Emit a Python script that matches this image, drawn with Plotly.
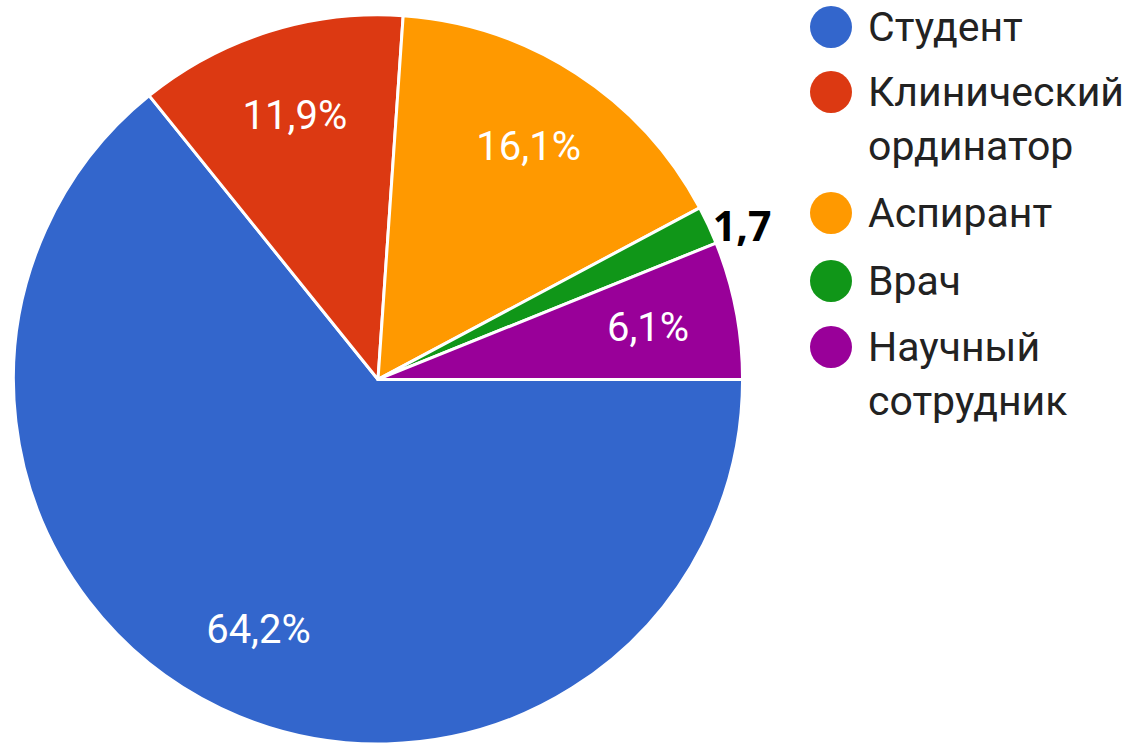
import plotly.graph_objects as go

categories = ["Студент", "Клинический ординатор", "Аспирант", "Врач", "Научный сотрудник"]
values = [64.2, 11.9, 16.1, 1.7, 6.1]
slice_labels = ["64,2%", "11,9%", "16,1%", "<b>1,7</b>", "6,1%"]
legend_lines = [["Студент"], ["Клинический", "ординатор"], ["Аспирант"], ["Врач"], ["Научный", "сотрудник"]]
colors = ["#3366CC", "#DC3912", "#FF9900", "#109618", "#990099"]

W, H = 1134, 744
CLEAR = "rgba(0,0,0,0)"
main_domain = dict(x=[13 / W, 743 / W], y=[0, 0.98])
small_domain = dict(x=[50.6 / W, 705.4 / W], y=[37.2 / H, 692.0 / H])
outer_label_domain = dict(x=[24 / W, 732 / W], y=[10.6 / H, 718.6 / H])

common = dict(
    labels=categories, values=values, text=slice_labels, textinfo="text",
    sort=False, direction="clockwise", rotation=90,
    showlegend=False, insidetextorientation="horizontal",
)
inside_font = dict(family="Roboto", size=40, color="white")
outside_font = dict(family="Open Sans", size=41, color="black")

fig = go.Figure()
# coloured slices
fig.add_trace(go.Pie(
    **common, domain=main_domain,
    marker=dict(colors=colors, line=dict(color="white", width=3)),
    textposition="none",
    hoverinfo="label+percent",
))
# transparent ring overlay that positions the large-slice labels further out
fig.add_trace(go.Pie(
    **common, domain=main_domain, hole=0.52,
    marker=dict(colors=[CLEAR] * len(values), line=dict(width=0)),
    textposition=["inside", "inside", "inside", "none", "none"],
    insidetextfont=inside_font,
    hoverinfo="skip",
))
# transparent smaller overlay that positions the narrow-slice label
fig.add_trace(go.Pie(
    **common, domain=small_domain,
    marker=dict(colors=[CLEAR] * len(values), line=dict(width=0)),
    textposition=["none", "none", "none", "none", "inside"],
    insidetextfont=inside_font,
    hoverinfo="skip",
))
# transparent overlay carrying the outside label of the tiny slice
fig.add_trace(go.Pie(
    **common, domain=outer_label_domain,
    marker=dict(colors=[CLEAR] * len(values), line=dict(width=0)),
    textposition=["none", "none", "none", "outside", "none"],
    outsidetextfont=outside_font,
    hoverinfo="skip",
))

shapes = []
annotations = []
circle_y = [27, 92, 213, 281, 347]
line_gap = 54
for i, lines in enumerate(legend_lines):
    cy = circle_y[i]
    shapes.append(dict(
        type="circle", xref="paper", yref="paper",
        xsizemode="pixel", ysizemode="pixel",
        xanchor=831 / W, yanchor=1 - cy / H,
        x0=-21, x1=21, y0=-21, y1=21,
        fillcolor=colors[i], line=dict(width=0),
    ))
    for j, t in enumerate(lines):
        ty = cy + j * line_gap
        annotations.append(dict(
            x=866 / W, y=1 - ty / H, xref="paper", yref="paper",
            xanchor="left", yanchor="middle", showarrow=False,
            text=t, font=dict(family="Roboto", size=41, color="#222222"),
        ))

fig.update_layout(
    width=W, height=H,
    margin=dict(l=0, r=0, t=0, b=0),
    paper_bgcolor="white", plot_bgcolor="white",
    shapes=shapes, annotations=annotations,
)

fig.write_html("out.html", config={"displayModeBar": False},
               post_script="document.body.style.margin='0';")
